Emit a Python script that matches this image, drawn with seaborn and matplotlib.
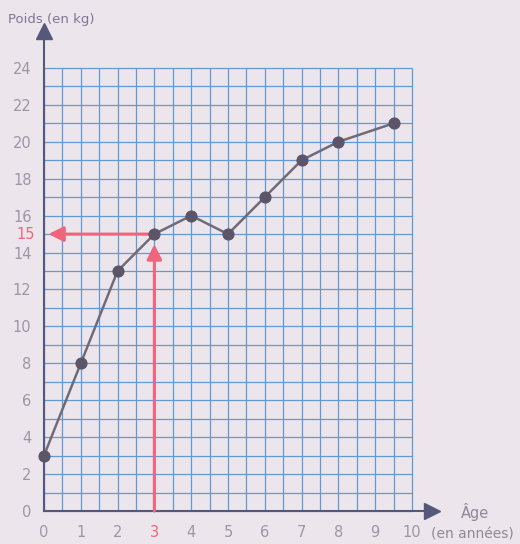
import numpy as np
import pandas as pd
import matplotlib
matplotlib.use("Agg")
import matplotlib.pyplot as plt
import seaborn as sns

# Data
ages = [0, 1, 2, 3, 4, 5, 6, 7, 8, 9.5]
poids = [3, 8, 13, 15, 16, 15, 17, 19, 20, 21]
x_ticks = list(range(0, 11))
y_ticks = list(range(0, 25, 2))
highlight_age = 3
highlight_poids = 15

sns.set_style("white")
plt.rcParams['font.family'] = ['DejaVu Sans']

bg = "#ece6ec"
grid_c = "#6199d2"
axis_c = "#55587a"
red = "#f0647c"
tick_c = "#9a97a6"

fig = plt.figure(figsize=(5.2, 5.44), dpi=100, facecolor=bg)
ax = fig.add_axes([0.0492, 0.0403, 0.8138, 0.9366])
ax.set_facecolor(bg)
ax.set_xlim(-0.5, 11)
ax.set_ylim(-0.6, 27)

# grid
gx = np.arange(0, 10.01, 0.5)
gy = np.arange(0, 24.01, 1)
ax.vlines(gx, 0, 24, color=grid_c, lw=0.9, zorder=1)
ax.hlines(gy, 0, 10, color=grid_c, lw=0.9, zorder=1)

# axes
for s in ["top", "right"]:
    ax.spines[s].set_visible(False)
ax.spines['left'].set_position(('data', 0))
ax.spines['bottom'].set_position(('data', 0))
ax.spines['left'].set_bounds(0, 25.8)
ax.spines['bottom'].set_bounds(0, 10.4)
ax.spines['left'].set_color(axis_c)
ax.spines['bottom'].set_color(axis_c)
ax.spines['left'].set_linewidth(1.5)
ax.spines['bottom'].set_linewidth(1.5)
ax.plot([0], [26.0], marker="^", color=axis_c, ms=11, clip_on=False, zorder=5)
ax.plot([10.55], [0], marker=">", color=axis_c, ms=11, clip_on=False, zorder=5)

ax.set_xticks(x_ticks)
ax.set_yticks(y_ticks)
ax.tick_params(axis='both', direction='out', length=6, width=1.2, colors=tick_c,
               labelsize=10.5, pad=3)
ax.tick_params(axis='x', pad=4)
for lbl in ax.get_xticklabels():
    if lbl.get_text() == str(highlight_age):
        lbl.set_color(red)

# extra 15 label
ax.text(-0.25, highlight_poids, str(highlight_poids), color=red, fontsize=10.5,
        ha='right', va='center')

# red guide arrows
ax.annotate("", xy=(highlight_age, highlight_poids - 0.55), xytext=(highlight_age, 0),
            arrowprops=dict(arrowstyle="-|>,head_length=0.9,head_width=0.45",
                            color=red, lw=2.2, shrinkA=0, shrinkB=0), zorder=3)
ax.annotate("", xy=(0.12, highlight_poids), xytext=(highlight_age, highlight_poids),
            arrowprops=dict(arrowstyle="-|>,head_length=0.9,head_width=0.45",
                            color=red, lw=2.2, shrinkA=0, shrinkB=0), zorder=3)

# data
df = pd.DataFrame({"age": ages, "poids": poids})
sns.lineplot(data=df, x="age", y="poids", ax=ax, color="#6f6b7a", lw=1.8,
             marker="o", markersize=8, markerfacecolor="#5c5568",
             markeredgecolor="#5c5568", zorder=4, clip_on=False)
ax.set_xlabel("")
ax.set_ylabel("")

# labels
fig.text(8/520, 1 - 20/544, "Poids (en kg)", color="#7f7596", fontsize=9.5,
         ha='left', va='center')
fig.text(475/520, 1 - 512/544, "Âge", color="#8c8a98", fontsize=10.5,
         ha='center', va='center')
fig.text(472/520, 1 - 535/544, "(en années)", color="#8c8a98", fontsize=10,
         ha='center', va='center')

fig.savefig("out.png", dpi=100, facecolor=bg)
